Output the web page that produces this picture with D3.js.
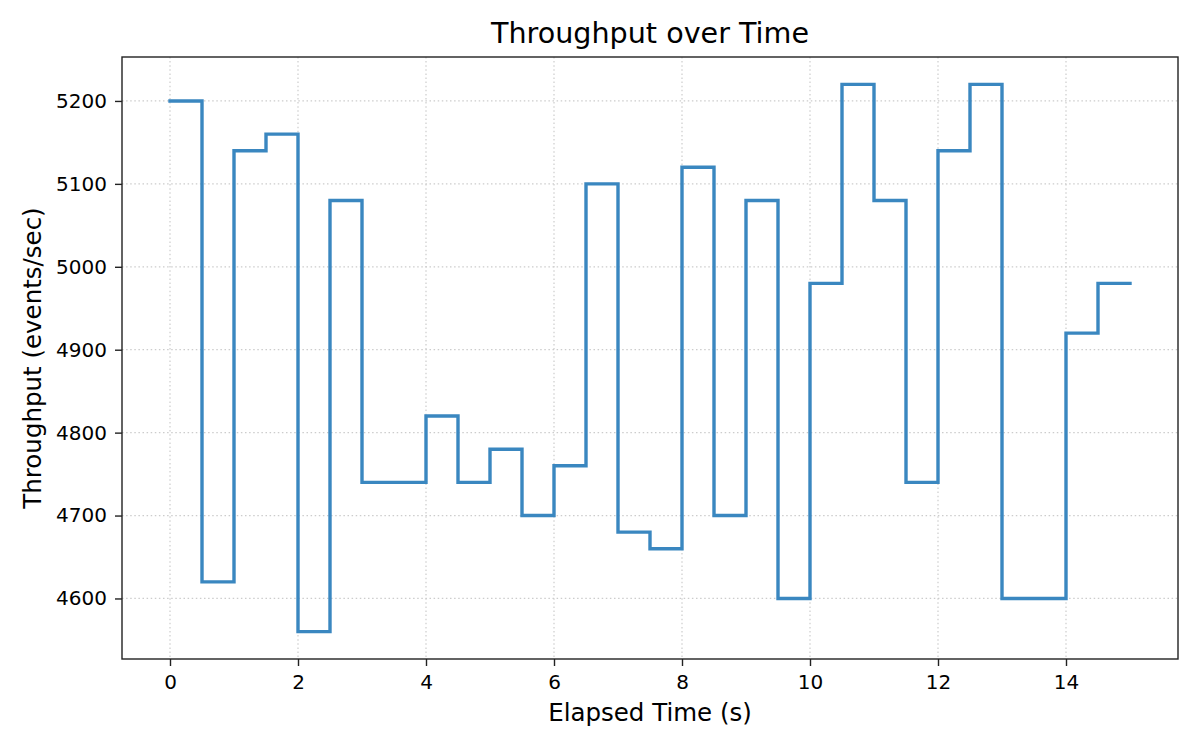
<!DOCTYPE html>
<html lang="en">
<head>
<meta charset="UTF-8">
<title>Throughput over Time</title>
<script src="https://d3js.org/d3.v7.min.js"></script>
<style>
    body { margin: 0; background: #fff; }
    svg text { font-family: "DejaVu Sans", sans-serif; fill: #000; }
    .grid line { stroke: #cccccc; stroke-width: 1.2; stroke-dasharray: 1.5 2.6; }
    .axis line { stroke: #222; stroke-width: 1.4; }
</style>
</head>
<body>
<script>
    const width = 1200;
    const height = 750;

    // elapsed time (s) and throughput (events/sec), step-post
    const times = [0, 0.5, 1, 1.5, 2, 2.5, 3, 3.5, 4, 4.5, 5, 5.5, 6, 6.5, 7, 7.5,
                   8, 8.5, 9, 9.5, 10, 10.5, 11, 11.5, 12, 12.5, 13, 13.5, 14, 14.5, 15];
    const throughput = [5200, 4620, 5140, 5160, 4560, 5080, 4740, 4740, 4820, 4740, 4780, 4700,
                        4760, 5100, 4680, 4660, 5120, 4700, 5080, 4600, 4980, 5220, 5080, 4740,
                        5140, 5220, 4600, 4600, 4920, 4980, 4980];
    const xTicks = [0, 2, 4, 6, 8, 10, 12, 14];
    const yTicks = [4600, 4700, 4800, 4900, 5000, 5100, 5200];

    const data = times.map((t, i) => ({t: t, v: throughput[i]}));

    const margin = {left: 122, right: 22, top: 57, bottom: 91};
    const iw = width - margin.left - margin.right;
    const ih = height - margin.top - margin.bottom;

    const svg = d3.select("body").append("svg")
        .attr("width", width).attr("height", height);

    const g = svg.append("g").attr("transform", `translate(${margin.left},${margin.top})`);

    const tMin = d3.min(times), tMax = d3.max(times);
    const vMin = d3.min(throughput), vMax = d3.max(throughput);
    const tPad = (tMax - tMin) * 0.05, vPad = (vMax - vMin) * 0.05;

    const x = d3.scaleLinear().domain([tMin - tPad, tMax + tPad]).range([0, iw]);
    const y = d3.scaleLinear().domain([vMin - vPad, vMax + vPad]).range([ih, 0]);

    // grid
    g.append("g").attr("class", "grid")
        .selectAll("line").data(xTicks).enter().append("line")
        .attr("x1", d => x(d)).attr("x2", d => x(d))
        .attr("y1", 0).attr("y2", ih);
    g.append("g").attr("class", "grid")
        .selectAll("line").data(yTicks).enter().append("line")
        .attr("x1", 0).attr("x2", iw)
        .attr("y1", d => y(d)).attr("y2", d => y(d));

    // step line
    const line = d3.line()
        .x(d => x(d.t))
        .y(d => y(d.v))
        .curve(d3.curveStepAfter);

    g.append("path")
        .datum(data)
        .attr("fill", "none")
        .attr("stroke", "#3a87c0")
        .attr("stroke-width", 3.4)
        .attr("stroke-linejoin", "miter")
        .attr("stroke-linecap", "square")
        .attr("d", line);

    // axes
    g.append("g").attr("class", "axis")
        .attr("transform", `translate(0,${ih})`)
        .call(d3.axisBottom(x).tickValues(xTicks).tickFormat(d3.format("d"))
            .tickSize(7).tickPadding(9).tickSizeOuter(0))
        .call(a => a.select(".domain").remove())
        .call(a => a.selectAll("text").attr("font-size", 20).attr("font-family", "DejaVu Sans"));
    g.append("g").attr("class", "axis")
        .call(d3.axisLeft(y).tickValues(yTicks).tickFormat(d3.format("d"))
            .tickSize(7).tickPadding(8).tickSizeOuter(0))
        .call(a => a.select(".domain").remove())
        .call(a => a.selectAll("text").attr("font-size", 20).attr("font-family", "DejaVu Sans"));

    // frame
    g.append("rect")
        .attr("width", iw).attr("height", ih)
        .attr("fill", "none").attr("stroke", "#222").attr("stroke-width", 1.4);

    // labels
    svg.append("text")
        .attr("x", margin.left + iw / 2).attr("y", 43)
        .attr("text-anchor", "middle").attr("font-size", 28.6)
        .text("Throughput over Time");
    svg.append("text")
        .attr("x", margin.left + iw / 2).attr("y", 721)
        .attr("text-anchor", "middle").attr("font-size", 24.5)
        .text("Elapsed Time (s)");
    svg.append("text")
        .attr("transform", `translate(41,${margin.top + ih / 2}) rotate(-90)`)
        .attr("text-anchor", "middle").attr("font-size", 24.5)
        .text("Throughput (events/sec)");
</script>
</body>
</html>
